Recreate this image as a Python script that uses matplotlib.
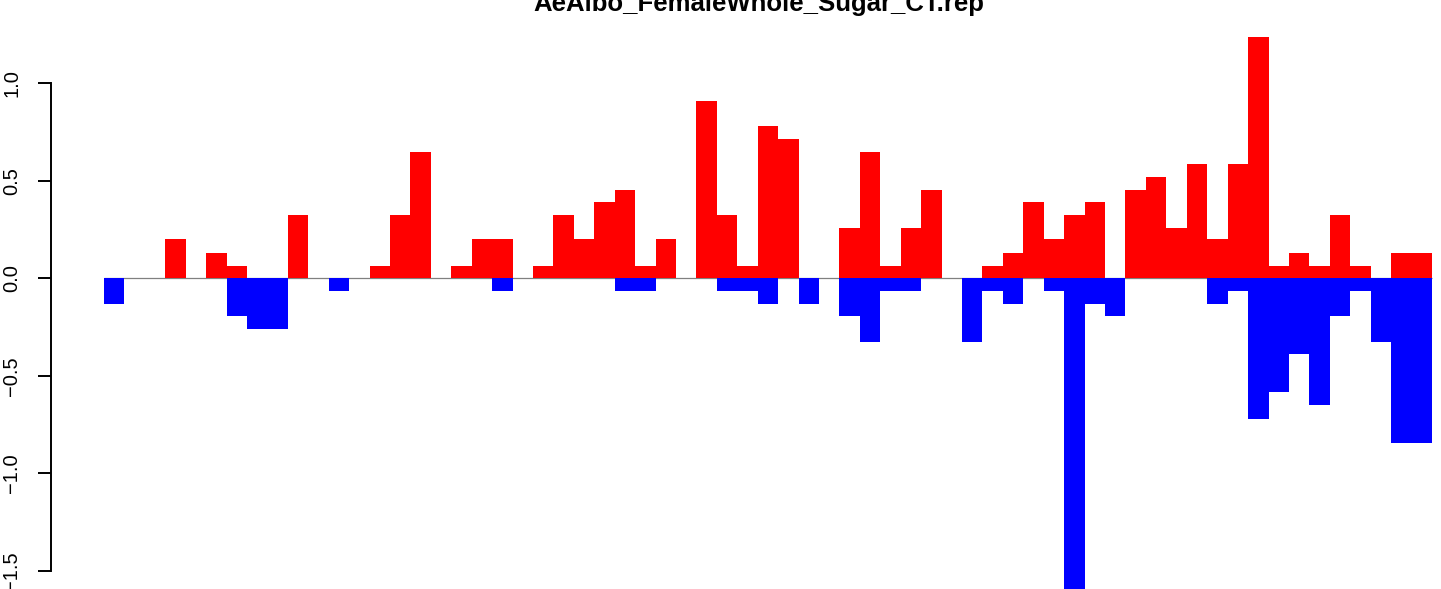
import matplotlib
matplotlib.use("Agg")
import matplotlib.pyplot as plt
import numpy as np

title = "AeAlbo_FemaleWhole_Sugar_CT.rep"

up = [0, 0, 0, 0.2, 0, 0.13, 0.065, 0, 0, 0.325,
      0, 0, 0, 0.065, 0.325, 0.65, 0, 0.065, 0.2, 0.2,
      0, 0.065, 0.325, 0.2, 0.39, 0.455, 0.065, 0.2, 0, 0.91,
      0.325, 0.065, 0.78, 0.715, 0, 0, 0.26, 0.65, 0.065, 0.26,
      0.455, 0, 0, 0.065, 0.13, 0.39, 0.2, 0.325, 0.39, 0,
      0.455, 0.52, 0.26, 0.585, 0.2, 0.585, 1.235, 0.065, 0.13, 0.065,
      0.325, 0.065, 0, 0.13, 0.13]

down = [-0.13, 0, 0, 0, 0, 0, -0.195, -0.26, -0.26, 0,
        0, -0.065, 0, 0, 0, 0, 0, 0, 0, -0.065,
        0, 0, 0, 0, 0, -0.065, -0.065, 0, 0, 0,
        -0.065, -0.065, -0.13, 0, -0.13, 0, -0.195, -0.325, -0.065, -0.065,
        0, 0, -0.325, -0.065, -0.13, 0, -0.065, -1.6, -0.13, -0.195,
        0, 0, 0, 0, -0.13, -0.065, -0.72, -0.585, -0.39, -0.65,
        -0.195, -0.065, -0.325, -0.845, -0.845]

yticks = [-1.5, -1.0, -0.5, 0.0, 0.5, 1.0]

plt.rcParams['font.family'] = ['Liberation Sans', 'DejaVu Sans']

W, H = 1441, 589
fig = plt.figure(figsize=(W / 100, H / 100), dpi=100)
ax = fig.add_axes([51 / W, 0, 1 - 51 / W, 1])

x = np.arange(len(up))
bw = 20.43
x0 = 104
ax.set_xlim((51 - x0) / bw, (W - x0) / bw)
ax.set_ylim((278.3 - H) / 195, 278.3 / 195)

ax.hlines(0, 0, len(up), color='#808080', lw=0.9, zorder=1)
ax.bar(x, up, width=1, align='edge', color='red', linewidth=0, zorder=2)
ax.bar(x, down, width=1, align='edge', color='blue', linewidth=0, zorder=2)

for s in ['top', 'right', 'bottom']:
    ax.spines[s].set_visible(False)
ax.spines['left'].set_bounds(-1.5, 1.0)
ax.spines['left'].set_linewidth(1.4)
ax.set_xticks([])
ax.set_yticks(yticks)
ax.set_yticklabels([("%.1f" % v).replace("-", "\u2212") for v in yticks])
ax.tick_params(axis='y', length=9.5, width=1.4, pad=12, labelsize=14.5,
               labelrotation=90)
for lab in ax.get_yticklabels():
    lab.set_verticalalignment('center')

fig.text(759 / W, 1 - 11 / H, title, ha='center', va='baseline',
         fontsize=18.5, fontweight='bold')

fig.savefig("out.png", dpi=100)
